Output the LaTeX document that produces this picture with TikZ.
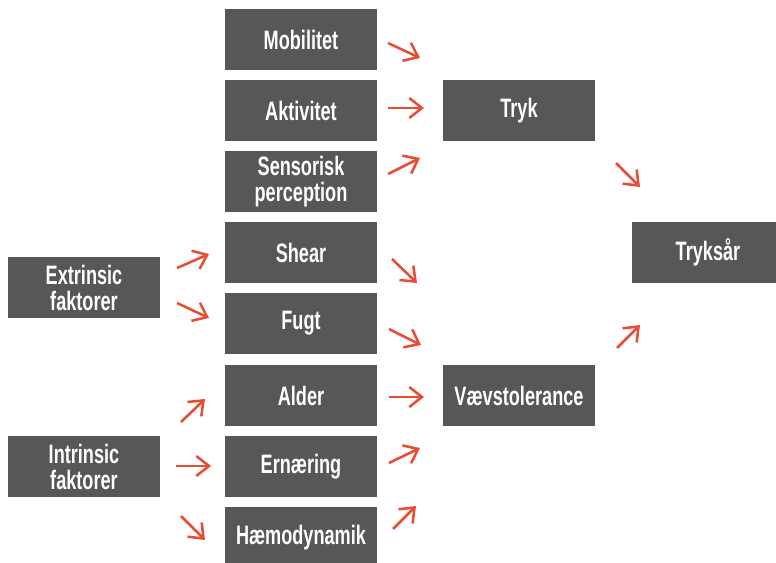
\documentclass[tikz,border=0pt]{standalone}
\usepackage{fontspec}
\setmainfont{Liberation Sans}[FakeStretch=0.68]
\usetikzlibrary{arrows.meta}
\definecolor{boxgray}{RGB}{87,87,85}
\definecolor{arrred}{RGB}{233,76,50}
\tikzset{
  fbox/.style={fill=boxgray, text=white, inner sep=0pt, minimum width=114pt, minimum height=45.75pt,
    font=\fontsize{20}{19.5}\selectfont\bfseries, align=center},
  farr/.style={draw=arrred, line width=1.9pt, -{Straight Barb[length=9.5pt, width=15pt, line width=1.9pt]}}
}
\begin{document}
\begin{tikzpicture}[x=0.75pt, y=-0.75pt]
\clip (0,0) rectangle (776,563);
\useasboundingbox (0,0) rectangle (776,563);
% middle column
\node[fbox] (mob) at (301,39.5) {Mobilitet};
\node[fbox] (akt) at (301,110.5) {Aktivitet};
\node[fbox] (sen) at (301,181.5) {Sensorisk\\perception};
\node[fbox] (she) at (301,252.5) {Shear};
\node[fbox] (fug) at (301,323.5) {Fugt};
\node[fbox] (ald) at (301,395.5) {Alder};
\node[fbox] (ern) at (301,466.5) {Ernæring};
\node[fbox] (hae) at (301,537.5) {Hæmodynamik};
% left
\node[fbox] (ext) at (84,287.5) {Extrinsic\\faktorer};
\node[fbox] (int) at (84,466.5) {Intrinsic\\faktorer};
% right
\node[fbox] (tryk) at (519,110.5) {Tryk};
\node[fbox] (vaev) at (519,395.5) {Vævstolerance};
\node[fbox] (sar) at (708,252.5) {Tryksår};
% arrow end points
\coordinate (a1s) at (388,43);  \coordinate (a1e) at (420,58);
\coordinate (a2s) at (388,108); \coordinate (a2e) at (424,108);
\coordinate (a3s) at (388,174); \coordinate (a3e) at (420,158);
\coordinate (a4s) at (392,259); \coordinate (a4e) at (417,283);
\coordinate (a5s) at (389,329); \coordinate (a5e) at (421,345);
\coordinate (a6s) at (389,397); \coordinate (a6e) at (424,397);
\coordinate (a7s) at (389,463); \coordinate (a7e) at (420,448);
\coordinate (a8s) at (393,529); \coordinate (a8e) at (416,506);
\coordinate (b1s) at (177,268); \coordinate (b1e) at (209,254);
\coordinate (b2s) at (177,303); \coordinate (b2e) at (209,318);
\coordinate (b3s) at (181,422); \coordinate (b3e) at (205,399);
\coordinate (b4s) at (176,466); \coordinate (b4e) at (211,466);
\coordinate (b5s) at (181,516); \coordinate (b5e) at (205,540);
\coordinate (c1s) at (616,163); \coordinate (c1e) at (640,187);
\coordinate (c2s) at (617,348); \coordinate (c2e) at (640,325);
\foreach \p in {a1,a2,a3,a4,a5,a6,a7,a8,b1,b2,b3,b4,b5,c1,c2}
  \draw[farr] (\p s) -- (\p e);
\end{tikzpicture}
\end{document}
